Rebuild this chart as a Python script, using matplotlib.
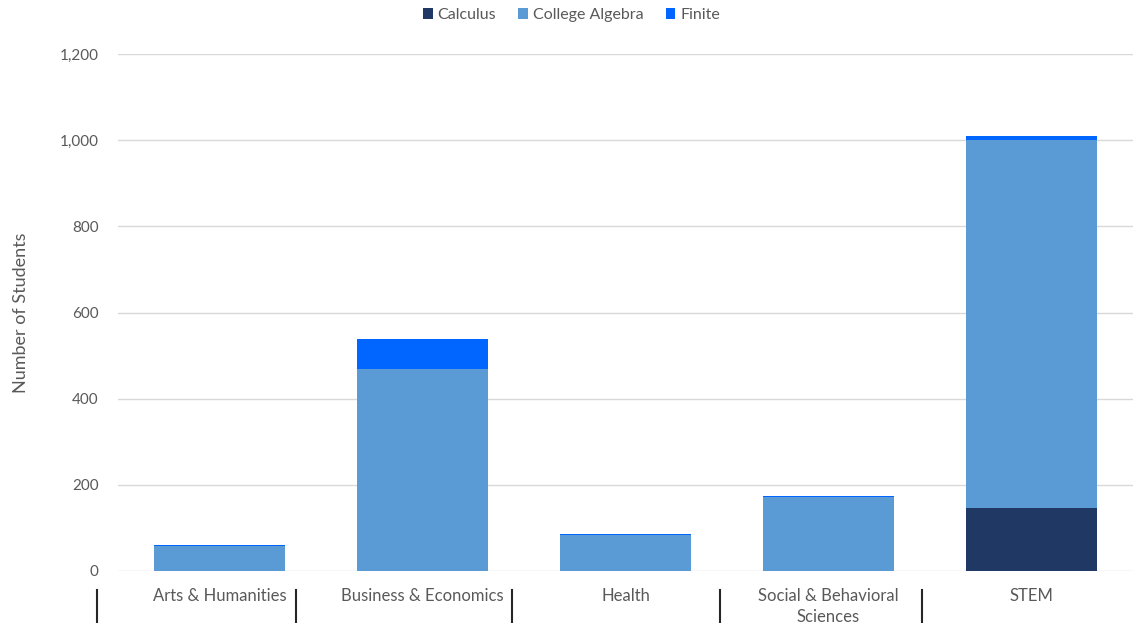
import numpy as np
import matplotlib.pyplot as plt

# Datos
categories = ["Arts & Humanities", "Business & Economics", "Health",
              "Social & Behavioral\nSciences", "STEM"]
calculus = [0, 0, 0, 0, 146]
college_algebra = [58, 469, 84, 172, 854]
finite = [3, 69, 2, 2, 10]

plt.rcParams['font.family'] = ['Lato', 'DejaVu Sans']
gray = '#595959'

fig = plt.figure(figsize=(11.36, 6.23), dpi=100)
ax = fig.add_axes([118 / 1136, 52 / 623, 1015 / 1136, 517 / 623])

x = np.arange(len(categories))
w = 0.645
calc = np.array(calculus)
alg = np.array(college_algebra)
fin = np.array(finite)

ax.bar(x, calc, w, color='#203864', label='Calculus')
ax.bar(x, alg, w, bottom=calc, color='#5B9BD5', label='College Algebra')
ax.bar(x, fin, w, bottom=calc + alg, color='#0066FF', label='Finite')

ax.set_xlim(-0.5, len(categories) - 0.5)
ax.set_ylim(0, 1200)
ax.set_yticks(np.arange(0, 1201, 200))
ax.set_yticklabels([f"{v:,}" for v in range(0, 1201, 200)])
ax.yaxis.grid(True, color='#D9D9D9', linewidth=1)
ax.set_axisbelow(True)
ax.tick_params(axis='y', length=0, pad=14, labelsize=11, labelcolor=gray)
ax.set_xticks([])
for s in ax.spines.values():
    s.set_visible(False)

for i, c in enumerate(categories):
    ax.text(i, -0.033, c, transform=ax.get_xaxis_transform(), ha='center', va='top',
            fontsize=12, color=gray, linespacing=1.35)

# separadores de categorías bajo el eje
for sx in [-0.603, 0.377, 1.44, 2.466, 3.46]:
    ax.plot([sx, sx], [-0.036, -0.1], transform=ax.get_xaxis_transform(),
            color='#262626', linewidth=1.5, clip_on=False)

ax.set_ylabel("Number of Students", fontsize=13, color=gray, labelpad=22)

fig.legend(loc='upper center', bbox_to_anchor=(0.503, 1.01), ncol=3, frameon=False,
           fontsize=11.5, handlelength=0.6, handleheight=0.6, handletextpad=0.3,
           columnspacing=1.4, labelcolor=gray)

fig.savefig('out.png', dpi=100)
